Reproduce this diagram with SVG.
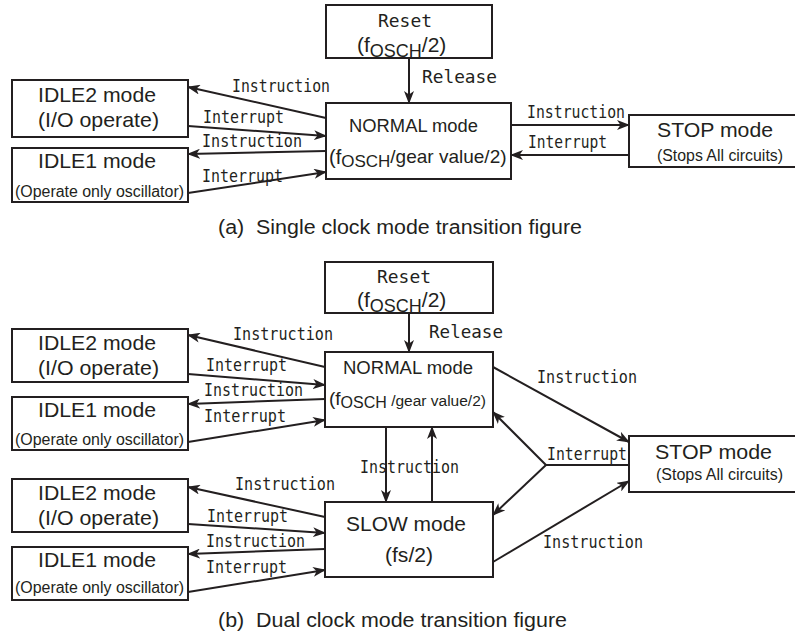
<svg xmlns="http://www.w3.org/2000/svg" width="795" height="637" viewBox="0 0 795 637">
<style>
.box{fill:#fff;stroke:#231f20;stroke-width:2}
.t{font-family:"Liberation Sans",Arial,sans-serif;fill:#231f20}
.m{font-family:"DejaVu Sans Mono","Liberation Mono",monospace;fill:#231f20;font-size:17px}
.c{stroke:#231f20;stroke-width:2;fill:none}
.a{marker-end:url(#ah)}
</style>
<defs>
<marker id="ah" viewBox="0 0 13 10" refX="12" refY="5" markerWidth="13" markerHeight="10" orient="auto" markerUnits="userSpaceOnUse">
<path d="M0,0 L13,5 L0,10 L3.5,5 z" fill="#231f20"/>
</marker>
</defs>
<rect width="795" height="637" fill="#fff"/>

<!-- ===== (a) ===== -->
<g id="a-reset">
<rect class="box" x="326" y="5" width="166" height="53"/>
<text class="m" x="378" y="27" font-size="18" textLength="54" lengthAdjust="spacingAndGlyphs">Reset</text>
<text class="t" x="357" y="52" font-size="21">(f<tspan font-size="18" dy="5">OSCH</tspan><tspan dy="-5">/2)</tspan></text>
</g>
<g id="a-normal">
<rect class="box" x="326" y="103" width="185" height="76"/>
<text class="t" x="349" y="132" font-size="18" textLength="129" lengthAdjust="spacingAndGlyphs">NORMAL mode</text>
<text class="t" x="329" y="164" font-size="20">(f<tspan font-size="17" dy="3">OSCH</tspan><tspan font-size="19" dy="-4">/gear value/2)</tspan></text>
</g>
<g id="a-stop">
<rect class="box" x="629" y="115" width="170" height="52"/>
<text class="t" x="657" y="137" font-size="21" textLength="116" lengthAdjust="spacingAndGlyphs">STOP mode</text>
<text class="t" x="657" y="161" font-size="16" textLength="126" lengthAdjust="spacingAndGlyphs">(Stops All circuits)</text>
</g>
<g id="a-idle2">
<rect class="box" x="12" y="80" width="176" height="57"/>
<text class="t" x="38" y="102" font-size="21" textLength="118" lengthAdjust="spacingAndGlyphs">IDLE2 mode</text>
<text class="t" x="38" y="127" font-size="21" textLength="121" lengthAdjust="spacingAndGlyphs">(I/O operate)</text>
</g>
<g id="a-idle1">
<rect class="box" x="12" y="148" width="176" height="54"/>
<text class="t" x="38" y="168" font-size="21" textLength="118" lengthAdjust="spacingAndGlyphs">IDLE1 mode</text>
<text class="t" x="15" y="197" font-size="16" textLength="169" lengthAdjust="spacingAndGlyphs">(Operate only oscillator)</text>
</g>
<g id="a-connectors">
<path class="c a" d="M326,118 L188,87"/>
<path class="c a" d="M188,126 L326,136"/>
<path class="c a" d="M326,151 L188,154"/>
<path class="c a" d="M188,193 L326,172"/>
<path class="c a" d="M409,58 L409,103"/>
<path class="c a" d="M511,125 L629,125"/>
<path class="c a" d="M629,155 L511,155"/>
<text class="m" x="232" y="92" textLength="98" lengthAdjust="spacingAndGlyphs">Instruction</text>
<text class="m" x="203" y="123" textLength="81" lengthAdjust="spacingAndGlyphs">Interrupt</text>
<text class="m" x="202" y="147" textLength="100" lengthAdjust="spacingAndGlyphs">Instruction</text>
<text class="m" x="202" y="182" textLength="81" lengthAdjust="spacingAndGlyphs">Interrupt</text>
<text class="m" x="422" y="83" font-size="18" textLength="75" lengthAdjust="spacingAndGlyphs">Release</text>
<text class="m" x="527" y="118" textLength="98" lengthAdjust="spacingAndGlyphs">Instruction</text>
<text class="m" x="528" y="148" textLength="79" lengthAdjust="spacingAndGlyphs">Interrupt</text>
</g>
<text class="t" x="218" y="234" font-size="20" style="white-space:pre" textLength="364" lengthAdjust="spacingAndGlyphs">(a)  Single clock mode transition figure</text>

<!-- ===== (b) ===== -->
<g id="b-reset">
<rect class="box" x="325" y="262" width="168" height="51"/>
<text class="m" x="377" y="283" font-size="18" textLength="54" lengthAdjust="spacingAndGlyphs">Reset</text>
<text class="t" x="357" y="307" font-size="21">(f<tspan font-size="18" dy="5">OSCH</tspan><tspan dy="-5">/2)</tspan></text>
</g>
<g id="b-normal">
<rect class="box" x="325" y="352" width="168" height="75"/>
<text class="t" x="343" y="374" font-size="18" textLength="130" lengthAdjust="spacingAndGlyphs">NORMAL mode</text>
<text class="t" x="329" y="405" font-size="19">(f<tspan font-size="16" dy="3">OSCH</tspan><tspan font-size="15.5" dy="-2"> /gear value/2)</tspan></text>
</g>
<g id="b-stop">
<rect class="box" x="629" y="436" width="170" height="56"/>
<text class="t" x="655" y="459" font-size="21" textLength="117" lengthAdjust="spacingAndGlyphs">STOP mode</text>
<text class="t" x="656" y="480" font-size="16" textLength="127" lengthAdjust="spacingAndGlyphs">(Stops All circuits)</text>
</g>
<g id="b-slow">
<rect class="box" x="325" y="502" width="168" height="75"/>
<text class="t" x="346" y="531" font-size="20" textLength="120" lengthAdjust="spacingAndGlyphs">SLOW mode</text>
<text class="t" x="385" y="562" font-size="20" textLength="48" lengthAdjust="spacingAndGlyphs">(fs/2)</text>
</g>
<g id="b-idle2-n">
<rect class="box" x="12" y="329" width="176" height="53"/>
<text class="t" x="38" y="350" font-size="21" textLength="118" lengthAdjust="spacingAndGlyphs">IDLE2 mode</text>
<text class="t" x="38" y="375" font-size="21" textLength="121" lengthAdjust="spacingAndGlyphs">(I/O operate)</text>
</g>
<g id="b-idle1-n">
<rect class="box" x="12" y="397" width="176" height="53"/>
<text class="t" x="38" y="417" font-size="21" textLength="118" lengthAdjust="spacingAndGlyphs">IDLE1 mode</text>
<text class="t" x="15" y="445" font-size="16" textLength="169" lengthAdjust="spacingAndGlyphs">(Operate only oscillator)</text>
</g>
<g id="b-idle2-s">
<rect class="box" x="12" y="479" width="176" height="53"/>
<text class="t" x="38" y="500" font-size="21" textLength="118" lengthAdjust="spacingAndGlyphs">IDLE2 mode</text>
<text class="t" x="38" y="525" font-size="21" textLength="121" lengthAdjust="spacingAndGlyphs">(I/O operate)</text>
</g>
<g id="b-idle1-s">
<rect class="box" x="12" y="547" width="176" height="53"/>
<text class="t" x="38" y="567" font-size="21" textLength="118" lengthAdjust="spacingAndGlyphs">IDLE1 mode</text>
<text class="t" x="15" y="593" font-size="16" textLength="169" lengthAdjust="spacingAndGlyphs">(Operate only oscillator)</text>
</g>
<g id="b-connectors">
<path class="c a" d="M409,313 L409,352"/>
<path class="c a" d="M493,367 L629,442"/>
<path class="c" d="M629,465 L546,465"/>
<path class="c a" d="M546,465 L493,412"/>
<path class="c a" d="M546,465 L493,515"/>
<path class="c a" d="M493,562 L629,481"/>
<path class="c a" d="M386,427 L386,502"/>
<path class="c a" d="M432,502 L432,427"/>
<path class="c a" d="M325,367 L188,335"/>
<path class="c a" d="M188,374 L325,385"/>
<path class="c a" d="M325,399 L188,404"/>
<path class="c a" d="M188,442 L325,420"/>
<path class="c a" d="M325,517 L188,487"/>
<path class="c a" d="M188,524 L325,533"/>
<path class="c a" d="M325,549 L188,554"/>
<path class="c a" d="M188,592 L325,570"/>
<text class="m" x="429" y="338" font-size="18" textLength="74" lengthAdjust="spacingAndGlyphs">Release</text>
<text class="m" x="537" y="383" textLength="100" lengthAdjust="spacingAndGlyphs">Instruction</text>
<text class="m" x="547" y="460" textLength="80" lengthAdjust="spacingAndGlyphs">Interrupt</text>
<text class="m" x="543" y="548" textLength="100" lengthAdjust="spacingAndGlyphs">Instruction</text>
<text class="m" x="360" y="473" textLength="99" lengthAdjust="spacingAndGlyphs">Instruction</text>
<text class="m" x="233" y="340" textLength="100" lengthAdjust="spacingAndGlyphs">Instruction</text>
<text class="m" x="206" y="371" textLength="81" lengthAdjust="spacingAndGlyphs">Interrupt</text>
<text class="m" x="204" y="396" textLength="99" lengthAdjust="spacingAndGlyphs">Instruction</text>
<text class="m" x="204" y="422" textLength="82" lengthAdjust="spacingAndGlyphs">Interrupt</text>
<text class="m" x="235" y="490" textLength="100" lengthAdjust="spacingAndGlyphs">Instruction</text>
<text class="m" x="207" y="522" textLength="81" lengthAdjust="spacingAndGlyphs">Interrupt</text>
<text class="m" x="206" y="547" textLength="99" lengthAdjust="spacingAndGlyphs">Instruction</text>
<text class="m" x="206" y="573" textLength="81" lengthAdjust="spacingAndGlyphs">Interrupt</text>
</g>
<text class="t" x="218" y="627" font-size="20" style="white-space:pre" textLength="349" lengthAdjust="spacingAndGlyphs">(b)  Dual clock mode transition figure</text>
</svg>
